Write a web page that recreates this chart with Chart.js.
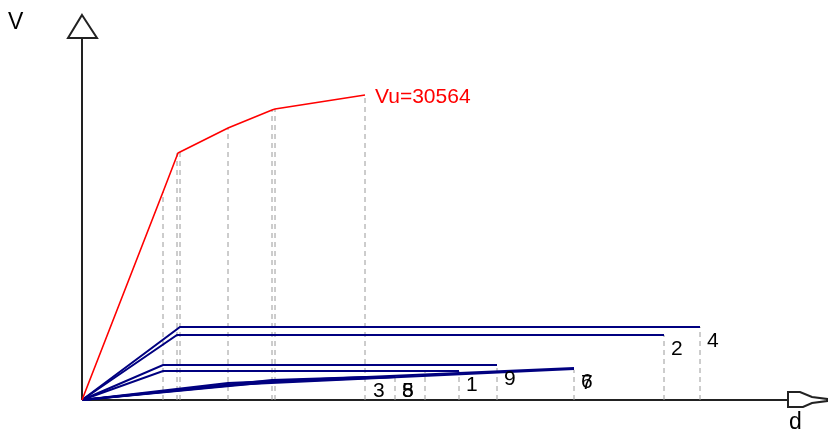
<!DOCTYPE html>
<html><head><meta charset="utf-8">
<script src="https://cdn.jsdelivr.net/npm/chart.js@4"></script>
<style>html,body{margin:0;padding:0;background:#fff;overflow:hidden}#wrap{width:828px;height:429px;position:relative}</style>
</head><body><div id="wrap"><canvas id="c"></canvas></div>
<script>
// ---- data (d = displacement, V = base shear) ----
const capacityD = [0, 4.05, 4.8, 4.9, 7.3, 9.5, 9.65, 14.15];
const capacityV = [0, 20844, 24752, 24852, 27257, 29061, 29160, 30564];
const capacityLabel = 'Vu=30564';

const curveLabels = ['4', '2', '9', '1', '6', '7', '3', '5', '8'];
const curveD = [
  [0, 4.9, 30.9],
  [0, 4.75, 29.1],
  [0, 4.05, 20.75],
  [0, 4.05, 18.85],
  [0, 7.3, 24.6],
  [0, 7.3, 24.6],
  [0, 9.5, 14.2],
  [0, 9.65, 15.65],
  [0, 9.5, 15.65]
];
const curveV = [
  [0, 7315, 7315],
  [0, 6514, 6514],
  [0, 3507, 3507],
  [0, 2906, 2906],
  [0, 1704, 3207],
  [0, 1503, 3106],
  [0, 2004, 2305],
  [0, 1904, 2305],
  [0, 1804, 2305]
];

// vertical reference (event) lines
const markerD = [4.05, 4.75, 4.9, 7.3, 9.5, 9.65, 14.15, 15.65, 17.15, 18.85, 20.75, 24.6, 29.1, 30.9];
const markerV = [20844, 24752, 24852, 27257, 29061, 29160, 30564, 2305, 3007, 2906, 3207, 3007, 6514, 7315];

const xMax = 37.3, yMax = 40084;      // scale extents
const xAxisEnd = 35.3, yAxisEnd = 36276; // where axis lines stop

const datasets = [];
datasets.push({
  data: capacityD.map((d, i) => ({x: d, y: capacityV[i]})),
  borderColor: '#ff0000', borderWidth: 1.6, order: 1
});
curveD.forEach((ds, k) => {
  datasets.push({
    data: ds.map((d, i) => ({x: d, y: curveV[k][i]})),
    borderColor: '#000080', borderWidth: 2, order: 2
  });
});
markerD.forEach((d, i) => {
  datasets.push({
    data: [{x: d, y: 0}, {x: d, y: markerV[i]}],
    borderColor: '#9a9a9a', borderWidth: 1, borderDash: [5, 4], order: 3
  });
});

const deco = {
  id: 'deco',
  beforeDraw(chart) {
    const c = chart.ctx;
    c.save(); c.fillStyle = '#fff'; c.fillRect(0, 0, chart.width, chart.height); c.restore();
  },
  beforeDatasetsDraw(chart) {
    const c = chart.ctx, x = chart.scales.x, y = chart.scales.y;
    const ox = x.getPixelForValue(0), oy = y.getPixelForValue(0);
    const xe = x.getPixelForValue(xAxisEnd), ye = y.getPixelForValue(yAxisEnd);
    c.save();
    c.strokeStyle = '#222'; c.lineWidth = 2;
    c.beginPath(); c.moveTo(ox, oy); c.lineTo(ox, ye); c.stroke();
    c.beginPath(); c.moveTo(ox, oy); c.lineTo(xe, oy); c.stroke();
    // y arrow (triangle)
    c.fillStyle = '#fff';
    c.beginPath(); c.moveTo(ox, ye - 23); c.lineTo(ox + 15, ye); c.lineTo(ox - 14, ye); c.closePath();
    c.fill(); c.stroke();
    // x arrow (elongated)
    c.beginPath();
    c.moveTo(xe, oy - 8); c.lineTo(xe + 12, oy - 8); c.lineTo(xe + 24, oy - 3); c.lineTo(xe + 39, oy - 1);
    c.lineTo(xe + 39, oy + 1); c.lineTo(xe + 24, oy + 3); c.lineTo(xe + 15, oy + 7); c.lineTo(xe, oy + 7); c.closePath();
    c.fill(); c.stroke();
    // axis names
    c.fillStyle = '#000'; c.font = '23px "Liberation Sans", Arial, sans-serif';
    c.textBaseline = 'top'; c.textAlign = 'left';
    c.fillText('V', 8, 11);
    c.fillText('d', xe + 1, oy + 11);
    c.restore();
  },
  afterDatasetsDraw(chart) {
    const c = chart.ctx, x = chart.scales.x, y = chart.scales.y;
    c.save();
    c.textAlign = 'left';
    c.font = '21px "Liberation Sans", Arial, sans-serif';
    c.fillStyle = '#000'; c.textBaseline = 'top';
    curveLabels.forEach((lab, k) => {
      const n = curveD[k].length - 1;
      const px = x.getPixelForValue(curveD[k][n]), py = y.getPixelForValue(curveV[k][n]);
      c.fillText(lab, px + 7, py + 4);
    });
    const n = capacityD.length - 1;
    const px = x.getPixelForValue(capacityD[n]), py = y.getPixelForValue(capacityV[n]);
    c.fillStyle = '#ff0000'; c.font = '21px "Liberation Sans", Arial, sans-serif';
    c.textBaseline = 'middle';
    c.fillText(capacityLabel, px + 10, py + 2);
    c.restore();
  }
};

new Chart(document.getElementById('c'), {
  type: 'line',
  data: {datasets},
  options: {
    responsive: true, maintainAspectRatio: false, animation: false,
    layout: {padding: {left: 82, right: 0, top: 0, bottom: 29}},
    elements: {point: {radius: 0}, line: {tension: 0, fill: false}},
    datasets: {line: {clip: false, pointRadius: 0}},
    plugins: {legend: {display: false}, tooltip: {enabled: false}},
    scales: {
      x: {type: 'linear', min: 0, max: xMax, display: false},
      y: {type: 'linear', min: 0, max: yMax, display: false}
    }
  },
  plugins: [deco]
});
</script></body></html>
